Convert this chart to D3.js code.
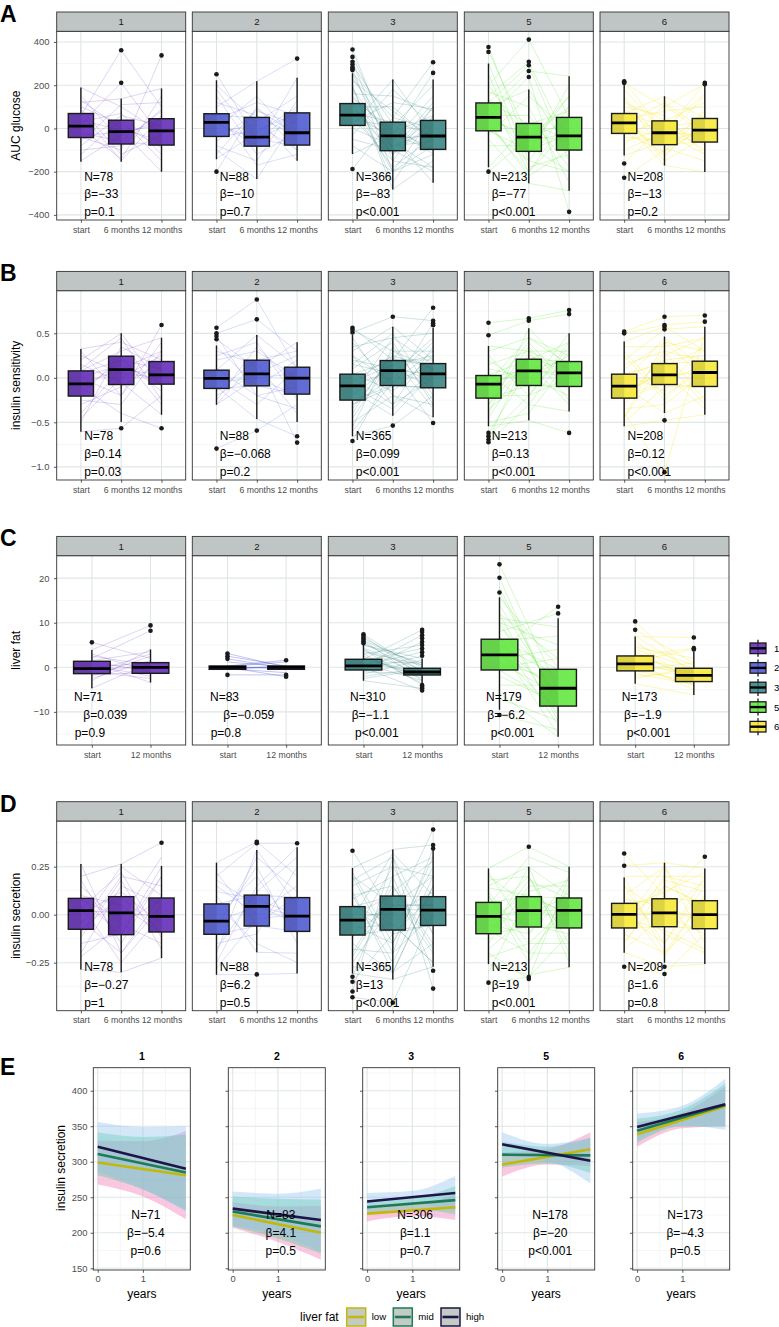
<!DOCTYPE html>
<html><head><meta charset="utf-8">
<script src="https://cdn.jsdelivr.net/npm/d3@7"></script>
<style>body{margin:0;background:#fff}svg text{font-family:"Liberation Sans",Arial,Helvetica,sans-serif}</style>
</head><body><svg id="c" width="779" height="1327"></svg>
<script>
// ---------------- DATA ----------------
const clusters=["1","2","3","5","6"];
const clusterColors=["#5A21B4","#4652CF","#2E7F7E","#5BE536","#F7E72E"];
const times3=["start","6 months","12 months"];
const times2=["start","12 months"];

// A: AUC glucose  box = [lowerWhisker,q1,median,q3,upperWhisker]
const aucTicks=[400,200,0,-200,-400];
const aucTickLabels=["400","200","0","\u2212200","\u2212400"];
const aucBox=[
 [[-154,-42,11,69,189],[-154,-72,-15,38,137],[-200,-77,-11,45,185]],
 [[-143,-37,28,68,223],[-234,-82,-40,51,218],[-149,-77,-20,72,235]],
 [[-118,14,62,115,255],[-282,-103,-34,29,226],[-251,-97,-35,37,226]],
 [[-180,-11,51,118,300],[-254,-106,-40,23,180],[-288,-100,-34,51,242]],
 [[-125,-23,26,69,208],[-171,-75,-20,35,149],[-202,-63,-8,46,208]]];
const aucOut=[
 [[],[362,211],[338]],
 [[251,-200],[],[323]],
 [[365,331,308,296,283,275,270,-188],[],[306,257]],
 [[377,354,-200],[411,308,292,266,238],[-386]],
 [[218,213,211,-162,-228],[],[211,205]]];
const aucTraj=[
 [[150,-60,80],[-120,40,-150],[60,362,100],[20,211,-40],[-40,-100,338],[100,20,-90],[-150,-30,40],[189,100,-20],[0,-140,150],[-80,60,10],[40,-10,-200],[120,137,185],[-20,-60,-80],[70,-150,60],
  [90,-120,-30],[-60,110,120],[130,0,-60],[-100,-80,90],[30,70,-120],[-30,-20,20]],
 [[251,-50,40],[-200,100,-100],[100,218,323],[-100,-234,50],[30,-80,235],[60,50,-149],[-140,-20,100],[150,-120,-20],[0,150,-60],[-40,-10,70],[200,30,150],[80,-170,-120],[-60,80,20],[20,-50,-80],
  [120,60,-40],[-80,-150,130],[40,120,60],[-20,20,-100],[180,-60,90],[-120,90,-30]],
 [[365,-100,50],[331,-50,-30],[308,-150,100],[292,20,-120],[275,-200,-80],[255,50,306],[200,-282,-150],[150,-30,257],[100,100,-60],[115,-120,30],[62,-40,-251],[14,226,-35],[-50,-100,120],[-118,-30,-100],[-188,50,0],[80,-180,-40],[40,10,200],[180,-60,-180],[230,-20,60],[130,-80,-10],
  [250,-100,-200],[220,80,-50],[190,-250,20],[160,150,80],[120,-200,-120],[90,-60,150],[70,30,-30],[50,-150,-180],[30,120,90],[0,-80,-60],[-30,180,10],[-80,-200,60],[140,-10,-90],[100,-120,100]],
 [[377,-100,-30],[354,-40,100],[300,-150,-200],[200,411,50],[150,308,-80],[118,292,-150],[80,266,242],[51,238,-386],[-11,-100,150],[-50,-254,-288],[-180,20,-50],[-200,-40,30],[100,180,-100],[20,-200,60],[60,-60,-20],
  [250,-180,-120],[200,-60,150],[170,100,-250],[140,-200,0],[90,-120,200],[60,60,-180],[40,-30,-60],[0,-150,100],[-30,150,-20],[-80,-80,-200],[120,20,80],[30,-220,-100]],
 [[218,-20,211],[211,100,205],[150,-75,-60],[69,149,46],[26,-171,-202],[-23,35,120],[-125,-60,-10],[-162,20,-100],[-228,-100,0],[100,60,-120],[50,-130,80],[-60,0,160],[0,-40,-63],[180,-20,-30],
  [140,-120,20],[120,40,-80],[90,-40,150],[60,-150,-40],[40,80,100],[10,-90,-150],[-40,-60,60],[-80,110,-30],[-100,-20,-120],[70,10,30],[20,120,-10],[-20,-110,90]]];
const aucN=["78","88","366","213","208"];
const aucBeta=["\u221233","\u221210","\u221283","\u221277","\u221213"];
const aucP=["=0.1","=0.7","<0.001","<0.001","=0.2"];

// B: insulin sensitivity
const sensTicks=[0.5,0,-0.5,-1];
const sensTickLabels=["0.5","0.0","\u22120.5","\u22121.0"];
const sensBox=[
 [[-0.605,-0.205,-0.067,0.078,0.325],[-0.496,-0.075,0.093,0.243,0.5],[-0.414,-0.071,0.034,0.183,0.45]],
 [[-0.302,-0.119,-0.007,0.086,0.362],[-0.463,-0.09,0.045,0.198,0.481],[-0.496,-0.183,-0.004,0.119,0.4]],
 [[-0.657,-0.25,-0.09,0.041,0.48],[-0.425,-0.086,0.082,0.194,0.575],[-0.444,-0.112,0.045,0.16,0.56]],
 [[-0.545,-0.228,-0.071,0.026,0.358],[-0.478,-0.086,0.078,0.209,0.556],[-0.377,-0.097,0.056,0.183,0.5]],
 [[-0.545,-0.228,-0.093,0.041,0.407],[-0.396,-0.075,0.034,0.16,0.463],[-0.414,-0.097,0.06,0.187,0.575]]];
const sensOut=[
 [[],[-0.567],[0.593,-0.567]],
 [[0.563,0.5,0.47,0.433,-0.795],[0.88,0.657,-0.593],[-0.657,-0.728]],
 [[0.563,0.54,0.51,-0.709],[0.687,-0.537],[0.787,0.642,0.612,0.59,-0.507]],
 [[0.619,0.478,-0.619,-0.657,-0.694,-0.724],[0.668,0.642],[0.761,0.716,-0.619]],
 [[0.519,0.5],[0.687,0.593,0.575,0.545,-0.478,-1.06],[0.701,0.631]]];
const sensTraj=[
 [[0.325,0.4,0.2],[0.3,-0.2,0.593],[0.2,0.5,-0.1],[0.078,0.3,0.45],[-0.067,0.093,0.034],[-0.2,0.25,-0.3],[-0.605,-0.567,-0.2],[-0.4,0.1,0.3],[-0.1,-0.4,-0.567],[0.05,0.2,0.1],[-0.3,-0.1,0.18],[0.15,-0.05,-0.414],[-0.5,0.35,0.1],[0,0.15,-0.07],
  [0.1,0.45,-0.25],[-0.25,-0.3,0.3],[0.25,0.05,0.0],[-0.15,0.2,-0.15],[-0.45,0.0,0.25],[0.0,-0.2,0.4]],
 [[0.563,0.88,0.1],[0.5,0.657,0.3],[0.47,-0.2,-0.1],[0.433,0.1,0.4],[-0.795,-0.593,-0.3],[-0.3,0.2,-0.728],[-0.1,-0.463,-0.657],[0.086,0.481,0.12],[-0.119,-0.09,-0.183],[0.2,0.3,0.0],[-0.2,0.05,0.25],[0.0,-0.3,0.1],[0.3,0.15,-0.4],[-0.05,0.0,-0.2],
  [0.35,-0.1,0.2],[-0.25,0.35,-0.1],[0.1,-0.2,-0.35],[-0.15,0.2,0.3],[0.25,0.4,-0.25],[-0.3,0.0,0.05]],
 [[0.563,0.2,0.787],[0.54,0.3,0.1],[0.51,0.687,0.642],[0.4,-0.1,0.612],[0.3,0.575,0.2],[0.2,0.1,-0.1],[0.041,0.194,0.16],[-0.09,0.082,0.045],[-0.25,-0.086,-0.112],[-0.4,0.3,0.3],[-0.5,-0.2,-0.444],[-0.657,-0.537,-0.2],[-0.709,0.1,-0.507],[-0.15,-0.425,0.05],[0.1,0.4,-0.3],[-0.3,0.0,0.4],[0.0,-0.3,0.0],[-0.2,0.15,0.25],[-0.35,0.25,0.1],[0.25,-0.05,0.3],
  [0.45,-0.2,-0.3],[0.35,0.45,0.15],[0.25,-0.3,0.35],[0.15,0.5,-0.2],[0.05,-0.15,0.25],[-0.05,0.25,-0.35],[-0.1,-0.35,0.1],[-0.2,0.45,0.5],[-0.3,-0.1,-0.1],[-0.45,0.2,0.2],[-0.55,0.35,-0.25],[-0.6,-0.05,0.15],[0.15,0.05,0.45],[-0.05,0.15,-0.05]],
 [[0.619,0.668,0.761],[0.478,0.642,0.716],[0.358,0.3,0.1],[0.026,0.209,0.183],[-0.071,0.078,0.056],[-0.228,-0.086,-0.097],[-0.545,-0.478,-0.619],[-0.619,0.1,0.2],[-0.657,-0.2,0.0],[-0.694,0.3,0.3],[-0.724,-0.3,-0.377],[0.2,-0.1,0.5],[-0.4,0.556,0.1],[0.1,0.0,-0.2],[-0.3,0.2,0.4],[-0.15,0.4,-0.1],
  [0.3,0.45,0.25],[0.25,-0.2,0.4],[0.15,0.3,-0.25],[0.05,-0.3,0.3],[-0.05,0.45,0.15],[-0.1,0.15,-0.3],[-0.2,-0.2,0.35],[-0.3,0.35,-0.15],[-0.35,0.0,0.25],[-0.45,0.25,0.05],[-0.5,-0.4,0.2],[0.0,0.1,0.0]],
 [[0.519,0.687,0.701],[0.5,0.593,0.631],[0.407,0.575,0.3],[0.2,0.545,0.575],[0.041,0.16,0.187],[-0.093,0.034,0.06],[-0.228,-0.075,-0.097],[-0.545,-0.478,-0.414],[-0.4,-1.06,0.5],[-0.3,0.3,0.2],[-0.1,-0.396,-0.2],[0.1,0.4,0.0],[-0.2,0.1,0.35],[0.3,-0.2,0.1],[-0.45,0.2,-0.3],
  [0.35,0.35,0.45],[0.25,-0.25,0.2],[0.15,0.3,-0.25],[0.05,-0.15,0.4],[-0.05,0.45,0.1],[-0.15,0.05,-0.35],[-0.25,0.25,0.45],[-0.35,-0.3,0.05],[-0.45,0.4,0.3],[-0.5,-0.1,-0.1],[0.0,0.2,0.25],[-0.2,-0.05,0.15]]];
const sensN=["78","88","365","213","208"];
const sensBeta=["0.14","\u22120.068","0.099","0.13","0.12"];
const sensP=["=0.03","=0.2","<0.001","<0.001","<0.001"];

// C: liver fat
const liverTicks=[20,10,0,-10];
const liverTickLabels=["20","10","0","\u221210"];
const liverBox=[
 [[-4.7,-1.42,-0.3,1.35,3.9],[-3.4,-1.35,0,1.05,4.0]],
 [[-0.45,-0.45,0,0.3,0.3],[-0.45,-0.45,0,0.3,0.3]],
 [[-3.0,-0.6,0.3,1.8,5.0],[-3.6,-1.72,-1.05,-0.22,2.0]],
 [[-9.5,-0.6,2.8,6.3,15.7],[-15.6,-8.7,-4.7,-0.45,11.0]],
 [[-3.7,-0.8,0.75,2.55,6.9],[-6.2,-3.2,-1.8,-0.22,3.5]]];
const liverOut=[
 [[5.6],[9.4,8.2]],
 [[3.1,2.5,1.9,-1.7],[1.6,-1.7,-2.1]],
 [[7.4,7.0,6.6,6.2,5.8,5.4],[8.4,7.9,7.2,6.5,5.7,5.0,4.2,3.4,2.6,-4.0,-4.4,-4.7,-5.2]],
 [[23.1,20.1,16.8,-10.7],[13.6,12.1]],
 [[10.3,8.4],[6.7,4.3,4.0]]];
const liverTraj=[
 [[5.6,2],[3.9,9.4],[2,8.2],[1.35,-1],[0,1.05],[-0.3,0],[-1.42,-1.35],[-4.7,1],[-3,4],[1,-3.4],[-2,2.5],[0.5,-2],[2.5,0.5],[-1,3],[3,-1],[-2.5,1.5],[1.5,3.5],[-1,-2.5]],
 [[3.1,0],[2.5,0.3],[1.9,-0.2],[-1.7,-1.7],[0.3,1.6],[0,-2.1],[-0.45,0.3],[0.2,-0.45],[0,0],[-0.3,0.2],[0.2,1.2],[-0.3,-1.2],[1.2,0.1]],
 [[7.4,-1],[7,-2],[6.5,0],[6,-3],[5.5,-1.5],[5,1],[4.3,-0.5],[1.8,8.4],[0.3,7.2],[-0.6,5.7],[-3,-4.7],[0,-5.2],[1,-1.05],[2.5,-2.5],[-1.5,1.65],[3,-3.6],[0.5,3.4],[-2,-0.22],[1.5,4.2],[4,-1.8],
  [5,2],[4,-4],[3.5,0.5],[2,-2],[1.2,1],[0.8,-3],[-0.5,2.5],[-1,-1.5],[-2.5,-0.5],[3,5],[6,0.5],[2,-1.3]],
 [[23.1,-5],[20.1,-10],[16.8,-8],[15.7,0],[12,-12],[10,5],[6.3,-0.45],[2.8,-4.7],[-0.6,-8.7],[-5.8,-15.6],[-10.7,-14],[4,13.6],[8,12.1],[0,2],[1,-3],[5,-6],
  [14,-7],[12,2],[10,-11],[9,-3],[7,-13],[6,7],[5,-2],[3,-10],[2,4],[1,-6],[-2,-8],[-4,-4],[-7,-12],[18,-9],[11,9],[4.5,-15]],
 [[10.3,-2],[8.4,1],[6.9,6.7],[2.55,4.3],[0.75,-1.8],[-0.8,-3.2],[-3.7,-6.2],[4,-0.22],[1.5,4],[0,-4],[-2,-1],[3,-2.5],[5,0.5],
  [7,-1],[6,-4],[4.5,2],[3.5,-2.8],[2,-0.5],[1,-5],[-0.5,1],[-1.5,-3.8],[-2.5,0],[0.5,-1.2]]];
const liverN=["71","83","310","179","173"];
const liverBeta=["0.039","\u22120.059","\u22121.1","\u22126.2","\u22121.9"];
const liverP=["=0.9","=0.8","<0.001","<0.001","<0.001"];

// D: insulin secretion
const secTicks=[0.25,0,-0.25];
const secTickLabels=["0.25","0.00","\u22120.25"];
const secBox=[
 [[-0.285,-0.076,0.021,0.085,0.264],[-0.3,-0.104,0.009,0.094,0.264],[-0.226,-0.09,-0.009,0.087,0.253]],
 [[-0.313,-0.102,-0.033,0.056,0.271],[-0.196,-0.059,0.043,0.102,0.337],[-0.306,-0.087,-0.007,0.089,0.351]],
 [[-0.306,-0.106,-0.028,0.042,0.243],[-0.337,-0.08,0.028,0.097,0.34],[-0.271,-0.056,0.024,0.094,0.337]],
 [[-0.257,-0.099,-0.009,0.064,0.241],[-0.314,-0.064,0.021,0.094,0.25],[-0.274,-0.069,0.023,0.087,0.25]],
 [[-0.198,-0.069,0.002,0.059,0.194],[-0.25,-0.0625,0.01,0.083,0.271],[-0.257,-0.073,0.0,0.073,0.24]]];
const secOut=[
 [[],[],[0.375]],
 [[],[0.38,0.372,-0.311],[0.372]],
 [[0.333,-0.323,-0.349,-0.4,-0.43],[-0.458],[0.444,0.363,0.345,-0.292,-0.385]],
 [[-0.354],[0.354,-0.325,-0.335],[]],
 [[0.319,0.255,-0.271],[-0.271,-0.309],[0.302]]];
const secTraj=[
 [[0.264,-0.2,0.1],[0.2,0.264,0.375],[0.085,-0.104,0.25],[0.021,0.009,-0.009],[-0.076,0.094,-0.09],[-0.285,-0.3,-0.226],[-0.2,0.15,0.05],[0.15,-0.05,-0.15],[-0.1,0.2,0.15],[0.05,-0.25,0.0],[0.1,0.05,-0.1],[-0.15,-0.1,0.2],[0.0,0.12,-0.05],[-0.05,0.25,0.1],
  [0.18,-0.15,0.2],[-0.12,0.18,-0.18],[0.08,-0.02,0.3],[-0.22,-0.05,0.08],[0.03,0.22,-0.12],[-0.03,-0.2,0.05]],
 [[0.271,0.38,0.2],[0.2,0.372,0.372],[0.056,0.102,0.089],[-0.033,0.043,-0.007],[-0.102,-0.059,-0.087],[-0.313,-0.311,-0.306],[-0.2,0.337,0.05],[0.1,-0.196,-0.2],[-0.25,0.15,0.351],[0.0,0.2,-0.1],[0.15,0.0,0.15],[-0.15,-0.1,0.25],[-0.05,0.25,-0.15],[0.12,0.08,0.0],
  [0.22,-0.05,0.1],[-0.08,0.3,0.12],[0.05,-0.15,-0.25],[-0.18,0.12,0.3],[0.18,0.05,-0.05],[-0.28,-0.02,0.0]],
 [[0.333,0.0,0.444],[0.243,0.34,0.363],[0.2,-0.2,0.345],[0.042,0.097,0.094],[-0.028,0.028,0.024],[-0.106,-0.08,-0.056],[-0.306,-0.337,-0.271],[-0.323,0.2,-0.292],[-0.349,-0.1,0.1],[-0.4,0.3,-0.385],[-0.43,-0.458,0.0],[0.1,-0.25,0.2],[-0.2,0.15,-0.15],[0.15,0.25,-0.1],[-0.05,-0.15,0.3],[0.0,0.1,-0.2],[-0.15,-0.3,0.15],[0.2,0.05,0.05],[-0.25,0.05,0.2],[0.05,-0.05,-0.25],
  [0.22,-0.15,0.25],[0.18,0.3,-0.1],[0.12,-0.3,0.15],[0.08,0.2,0.3],[0.03,-0.1,-0.05],[-0.02,0.32,0.1],[-0.07,-0.05,-0.25],[-0.12,0.25,0.2],[-0.18,-0.2,0.0],[-0.22,0.12,0.28],[-0.27,-0.3,-0.15],[0.0,0.0,0.12],[0.1,0.15,-0.18],[-0.1,0.05,0.05]],
 [[0.241,0.354,0.25],[0.15,0.25,0.1],[0.064,0.094,0.087],[-0.009,0.021,0.023],[-0.099,-0.064,-0.069],[-0.257,-0.314,-0.274],[-0.354,-0.325,-0.1],[-0.2,-0.335,0.2],[0.1,-0.2,-0.2],[-0.15,0.15,0.15],[0.2,0.05,-0.05],[-0.05,-0.1,0.12],[0.0,0.2,-0.15],[-0.3,0.1,0.0],[0.12,-0.15,0.05],
  [0.22,-0.1,0.2],[0.18,0.2,-0.2],[0.1,-0.25,0.15],[0.05,0.3,0.22],[0.0,-0.05,-0.1],[-0.04,0.12,0.18],[-0.08,-0.2,0.05],[-0.13,0.25,-0.25],[-0.18,0.0,0.1],[-0.22,-0.15,-0.15],[0.14,0.1,0.0],[-0.1,0.18,0.08]],
 [[0.319,0.1,0.302],[0.255,0.271,0.24],[0.194,-0.2,0.1],[0.059,0.083,0.073],[0.002,0.01,0.0],[-0.069,-0.0625,-0.073],[-0.198,-0.271,-0.257],[-0.271,-0.309,-0.1],[-0.1,0.2,0.15],[0.1,-0.1,-0.2],[-0.15,0.15,0.05],[0.15,0.0,-0.1],[0.0,-0.15,0.2],[-0.05,0.25,-0.05],
  [0.2,0.2,0.2],[0.15,-0.15,0.15],[0.1,0.25,-0.15],[0.06,-0.22,0.1],[0.03,0.12,0.22],[-0.02,-0.08,-0.18],[-0.06,0.18,0.12],[-0.1,-0.2,0.0],[-0.14,0.1,-0.2],[-0.18,0.0,0.18],[0.08,0.05,-0.05],[-0.04,0.15,0.05]]];
const secN=["78","88","365","213","208"];
const secBeta=["\u22120.27","6.2","13","19","1.6"];
const secP=["=1","=0.5","<0.001","<0.001","=0.8"];

// E: insulin secretion by liver fat tertile over years
const eYears=[0,1,1.95];
const eTicks=[150,200,250,300,350,400];
const eXTicks=[0,1];
const liverFatLevels=["low","mid","high"];
const eLineColors=["#C2B80A","#1F7A57","#1E1446"];
const eBandColors=["#F26BB0","#47CF92","#8CC0EE"];
const eLow=[[299,281],[225,200],[227,236],[296,317.5],[338.6,378]];
const eMid=[[311,285],[230,209],[236,246],[310,309],[343.7,380]];
const eHigh=[[321,290],[234,218],[244,256],[324.5,301.4],[349,381]];
const eLowBand=[[[268,251,219],[330,329,343]],[[207,187,162],[243,237,238]],[[216,223.5,218],[238,239.5,254]],[[279,296,293.5],[313,318,341.5]],[[321,347,350],[356,369,406]]];
const eMidBand=[[[281,261,232],[341,335,338]],[[209,192,171],[251,248,247]],[[226,233,226],[246,249,266]],[[292,297.5,284],[328,321.5,334]],[[326.7,350,350],[360.7,374,410]]];
const eHighBand=[[[286,262,230],[356,349,350]],[[210,197,174],[258,255,262]],[[232,241,232],[256,259,280]],[[307.5,301,269.4],[341.5,325,333.4]],[[330,351,345],[368,379,417]]];
const eN=["71","83","306","178","173"];
const eBeta=["\u22125.4","4.1","1.1","\u221220","\u22124.3"];
const eP=["=0.6","=0.5","=0.7","<0.001","=0.5"];

// ---------------- DRAWING ----------------
const svg=d3.select("#c");
const INK="#1a1a1a", AX="#4d4d4d", GRID="#dfe6e6", GRIDm="#eaf0f0";
const panelX=[56.7,192.3,328.3,464.3,600], PW=129, STRIP=19.3;

function styleAxis(ax,fs){
  ax.select(".domain").remove();
  ax.selectAll(".tick line").attr("stroke","#333").attr("stroke-width",0.8);
  ax.selectAll(".tick text").attr("fill",AX).attr("font-size",fs||9.2).attr("font-family",null);
}

function drawRow(o){
  const pTop=o.top+STRIP;
  const y=d3.scaleLinear().domain(o.dom).range([o.bottom,pTop]);
  svg.append("text").attr("x",0).attr("y",o.top+9.8).text(o.letter)
    .attr("font-size",23).attr("font-weight","bold").attr("fill","#000");
  svg.append("text").attr("transform",`translate(16,${(pTop+o.bottom)/2}) rotate(-90)`)
    .attr("text-anchor","middle").attr("dominant-baseline","central").attr("font-size",12).attr("fill","#000").text(o.title);
  const minor=[];
  for(let k=0;k<o.ticks.length-1;k++) minor.push((o.ticks[k]+o.ticks[k+1])/2);
  const st=o.ticks[0]-o.ticks[1];
  minor.push(o.ticks[0]+st/2, o.ticks[o.ticks.length-1]-st/2);
  clusters.forEach((cl,i)=>{
    const px=panelX[i];
    const g=svg.append("g").attr("transform",`translate(${px},0)`);
    const x=d3.scalePoint().domain(o.times).range([0,PW]).padding(0.6);
    const bw=0.625*x.step();
    g.append("rect").attr("x",0).attr("y",pTop).attr("width",PW).attr("height",o.bottom-pTop).attr("fill","#fff");
    const clipId="clip"+o.letter+i;
    g.append("clipPath").attr("id",clipId).append("rect").attr("x",0).attr("y",pTop).attr("width",PW).attr("height",o.bottom-pTop);
    const gc=g.append("g").attr("clip-path",`url(#${clipId})`);
    minor.forEach(v=>gc.append("line").attr("x1",0).attr("x2",PW).attr("y1",y(v)).attr("y2",y(v)).attr("stroke",GRIDm).attr("stroke-width",0.55));
    o.ticks.forEach(v=>gc.append("line").attr("x1",0).attr("x2",PW).attr("y1",y(v)).attr("y2",y(v)).attr("stroke",GRID).attr("stroke-width",1.1));
    o.times.forEach(t=>gc.append("line").attr("x1",x(t)).attr("x2",x(t)).attr("y1",pTop).attr("y2",o.bottom).attr("stroke",GRID).attr("stroke-width",1.1));
    const line=d3.line().x((d,j)=>x(o.times[j])).y(d=>y(d));
    gc.selectAll("path.traj").data(o.traj[i]).join("path").attr("class","traj").attr("d",line)
      .attr("fill","none").attr("stroke",clusterColors[i]).attr("stroke-opacity",o.lineOp[i]).attr("stroke-width",0.75);
    o.times.forEach((t,j)=>{
      const [lw,q1,md,q3,uw]=o.box[i][j]; const cx=x(t);
      gc.append("line").attr("x1",cx).attr("x2",cx).attr("y1",y(uw)).attr("y2",y(q3)).attr("stroke",INK).attr("stroke-width",1.4);
      gc.append("line").attr("x1",cx).attr("x2",cx).attr("y1",y(q1)).attr("y2",y(lw)).attr("stroke",INK).attr("stroke-width",1.4);
      gc.append("rect").attr("x",cx-bw/2).attr("y",y(q3)).attr("width",bw).attr("height",Math.max(1,y(q1)-y(q3)))
        .attr("fill",clusterColors[i]).attr("fill-opacity",0.85);
      gc.append("rect").attr("x",cx-bw/2).attr("y",y(q3)).attr("width",bw/2).attr("height",Math.max(1,y(q1)-y(q3)))
        .attr("fill","#000").attr("fill-opacity",0.1);
      gc.append("rect").attr("x",cx-bw/2).attr("y",y(q3)).attr("width",bw).attr("height",Math.max(1,y(q1)-y(q3)))
        .attr("fill","none").attr("stroke",INK).attr("stroke-width",1.4);
      gc.append("line").attr("x1",cx-bw/2).attr("x2",cx+bw/2).attr("y1",y(md)).attr("y2",y(md)).attr("stroke","#000").attr("stroke-width",2.8);
      o.out[i][j].forEach(v=>gc.append("circle").attr("cx",cx).attr("cy",y(v)).attr("r",2.3).attr("fill",INK));
    });
    g.append("rect").attr("x",0).attr("y",pTop).attr("width",PW).attr("height",o.bottom-pTop).attr("fill","none").attr("stroke","#333").attr("stroke-width",0.9);
    g.append("rect").attr("x",0).attr("y",o.top).attr("width",PW).attr("height",STRIP).attr("fill","#bfc5c5").attr("stroke","#333").attr("stroke-width",0.9);
    g.append("text").attr("x",PW/2).attr("y",o.top+STRIP/2).attr("text-anchor","middle").attr("dominant-baseline","central")
      .attr("font-size",9.6).attr("fill",INK).text(cl);
    const axb=g.append("g").attr("transform",`translate(0,${o.bottom})`).call(d3.axisBottom(x).tickSize(2.75).tickPadding(3.8));
    styleAxis(axb,8.7);
    if(i===0){
      const axl=g.append("g").call(d3.axisLeft(y).tickValues(o.ticks).tickFormat((d,k)=>o.tickLabels[k]).tickSize(2.75).tickPadding(4.5));
      styleAxis(axl,9.4);
    }
    const texts=["N="+o.N[i],"\u03b2="+o.beta[i],"p"+o.p[i]];
    texts.forEach((s,k)=>{
      const off=o.annX? o.annX[i][k] : 27.5;
      g.append("text").attr("x",off).attr("y",o.annY[k]).attr("dominant-baseline","central").attr("font-size",12).attr("fill","#000").text(s);
    });
  });
}

const lineOps=[0.25,0.25,0.3,0.35,0.45];
drawRow({letter:"A",top:12,bottom:220,dom:[-423.6,449.4],ticks:aucTicks,tickLabels:aucTickLabels,title:"AUC glucose",
  times:times3,box:aucBox,out:aucOut,traj:aucTraj,N:aucN,beta:aucBeta,p:aucP,annY:[176.7,194,211.7],lineOp:lineOps});
drawRow({letter:"B",top:271.4,bottom:480,dom:[-1.148,0.979],ticks:sensTicks,tickLabels:sensTickLabels,title:"insulin sensitivity",
  times:times3,box:sensBox,out:sensOut,traj:sensTraj,N:sensN,beta:sensBeta,p:sensP,annY:[436,454,472.3],lineOp:lineOps});
drawRow({letter:"C",top:536.4,bottom:745,dom:[-17.43,25.04],ticks:liverTicks,tickLabels:liverTickLabels,title:"liver fat",
  times:times2,box:liverBox,out:liverOut,traj:liverTraj,N:liverN,beta:liverBeta,p:liverP,annY:[696.7,715,733.3],lineOp:[0.25,0.45,0.3,0.35,0.45],
  annX:[[17.3,26.6,18],[17.7,31,18.4],[21.7,23.4,26.7],[21.7,23,26.4],[21.7,24,26.7]]});
drawRow({letter:"D",top:801.7,bottom:1010.7,dom:[-0.5,0.488],ticks:secTicks,tickLabels:secTickLabels,title:"insulin secretion",
  times:times3,box:secBox,out:secOut,traj:secTraj,N:secN,beta:secBeta,p:secP,annY:[966.7,985,1003.3],lineOp:lineOps});

// right legend (clusters)
clusters.forEach((cl,i)=>{
  const cy=648.3+i*19.6, cx=758;
  const g=svg.append("g");
  g.append("line").attr("x1",cx).attr("x2",cx).attr("y1",cy-8.5).attr("y2",cy+8.5).attr("stroke",INK).attr("stroke-width",1.3);
  g.append("rect").attr("x",750).attr("y",cy-5.3).attr("width",16).attr("height",10.6).attr("fill",clusterColors[i]).attr("fill-opacity",0.85).attr("stroke",INK).attr("stroke-width",1.3);
  g.append("line").attr("x1",750).attr("x2",766).attr("y1",cy).attr("y2",cy).attr("stroke","#000").attr("stroke-width",2.4);
  g.append("text").attr("x",774).attr("y",cy).attr("dominant-baseline","central").attr("font-size",9.6).attr("fill","#000").text(cl);
});

// ---------------- E ----------------
const eX=[93.3,228.3,362.7,497.7,632.7], EW=97, eTop=1067.7, eBot=1270;
const ey=d3.scaleLinear().domain([147.6,432.4]).range([eBot,eTop]);
svg.append("text").attr("x",0).attr("y",1075).text("E").attr("font-size",23).attr("font-weight","bold").attr("fill","#000");
svg.append("text").attr("transform",`translate(61,1168) rotate(-90)`).attr("text-anchor","middle").attr("dominant-baseline","central").attr("font-size",12).attr("fill","#000").text("insulin secretion");
const eLines=[eLow,eMid,eHigh], eBands=[eLowBand,eMidBand,eHighBand];
clusters.forEach((cl,i)=>{
  const g=svg.append("g").attr("transform",`translate(${eX[i]},0)`);
  const x=d3.scaleLinear().domain([-0.0975,2.0475]).range([0,EW]);
  g.append("rect").attr("x",0).attr("y",eTop).attr("width",EW).attr("height",eBot-eTop).attr("fill","#fff");
  [175,225,275,325,375,425].forEach(v=>g.append("line").attr("x1",0).attr("x2",EW).attr("y1",ey(v)).attr("y2",ey(v)).attr("stroke",GRIDm).attr("stroke-width",0.55));
  [0.5,1.5].forEach(v=>g.append("line").attr("x1",x(v)).attr("x2",x(v)).attr("y1",eTop).attr("y2",eBot).attr("stroke",GRIDm).attr("stroke-width",0.55));
  eTicks.forEach(v=>g.append("line").attr("x1",0).attr("x2",EW).attr("y1",ey(v)).attr("y2",ey(v)).attr("stroke",GRID).attr("stroke-width",1.1));
  eXTicks.forEach(v=>g.append("line").attr("x1",x(v)).attr("x2",x(v)).attr("y1",eTop).attr("y2",eBot).attr("stroke",GRID).attr("stroke-width",1.1));
  eBands.forEach((b,k)=>{
    const band=b[i];
    const area=d3.area().x((d,j)=>x(eYears[j])).y0((d,j)=>ey(band[0][j])).y1((d,j)=>ey(band[1][j])).curve(d3.curveMonotoneX);
    g.append("path").attr("d",area(eYears)).attr("fill",eBandColors[k]).attr("fill-opacity",0.38);
  });
  eLines.forEach((L,k)=>{
    const ln=L[i];
    g.append("line").attr("x1",x(eYears[0])).attr("x2",x(eYears[2])).attr("y1",ey(ln[0])).attr("y2",ey(ln[1]))
      .attr("stroke",eLineColors[k]).attr("stroke-width",2.6);
  });
  g.append("rect").attr("x",0).attr("y",eTop).attr("width",EW).attr("height",eBot-eTop).attr("fill","none").attr("stroke","#333").attr("stroke-width",0.9);
  g.append("text").attr("x",EW/2).attr("y",1055.7).attr("text-anchor","middle").attr("dominant-baseline","central").attr("font-size",10.5).attr("font-weight","bold").attr("fill","#000").text(cl);
  const axb=g.append("g").attr("transform",`translate(0,${eBot})`).call(d3.axisBottom(x).tickValues(eXTicks).tickFormat(d3.format("d")).tickSize(2.75).tickPadding(3));
  styleAxis(axb,9.4);
  const axl=g.append("g").call(d3.axisLeft(ey).tickValues(eTicks).tickSize(2.75).tickPadding(3.2).tickFormat(i===0?d3.format("d"):()=>""));
  styleAxis(axl,9.4);
  g.append("text").attr("x",EW/2).attr("y",1294).attr("text-anchor","middle").attr("dominant-baseline","central").attr("font-size",12).attr("fill","#000").text("years");
  ["N="+eN[i],"\u03b2="+eBeta[i],"p"+eP[i]].forEach((s,k)=>{
    g.append("text").attr("x",52.5).attr("y",[1215,1233.3,1251][k]).attr("text-anchor","middle").attr("dominant-baseline","central").attr("font-size",12).attr("fill","#000").text(s);
  });
});
// E legend
svg.append("text").attr("x",300).attr("y",1316.7).attr("dominant-baseline","central").attr("font-size",12).attr("fill","#000").text("liver fat");
const keyX=[346.7,393.3,441];
liverFatLevels.forEach((lv,k)=>{
  const kx=keyX[k], ky=1308;
  svg.append("rect").attr("x",kx).attr("y",ky).attr("width",19).attr("height",18).attr("fill","#c3cbc7").attr("stroke",eLineColors[k]).attr("stroke-width",1.5);
  svg.append("line").attr("x1",kx+1.5).attr("x2",kx+17.5).attr("y1",ky+9).attr("y2",ky+9).attr("stroke",eLineColors[k]).attr("stroke-width",2.6);
  svg.append("text").attr("x",kx+25).attr("y",1316.7).attr("dominant-baseline","central").attr("font-size",9.6).attr("fill","#000").text(lv);
});
</script></body></html>
